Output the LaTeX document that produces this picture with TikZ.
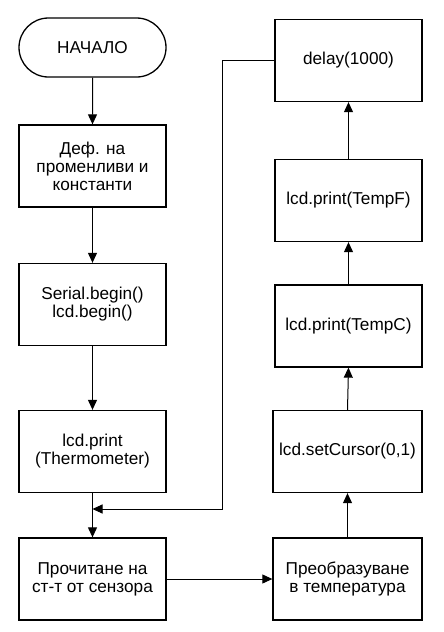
\documentclass[tikz,border=0pt]{standalone}
\usepackage{fontspec}
\setmainfont{Liberation Sans}
\usetikzlibrary{arrows.meta,shapes.misc}
\tikzset{
  box/.style={draw, line width=1.3pt, rectangle, minimum width=147pt, minimum height=82pt, align=center, inner sep=0pt, font=\fontsize{17.2}{18}\selectfont},
  term/.style={draw, line width=1.3pt, rounded rectangle, minimum width=147pt, minimum height=59pt, align=center, inner sep=0pt, font=\fontsize{17.2}{18}\selectfont},
  conn/.style={line width=1pt, -{Triangle[length=10pt,width=9pt]}},
  plain/.style={line width=1pt}
}
\begin{document}
\begin{tikzpicture}[x=1pt,y=-1pt]
\useasboundingbox (0,0) rectangle (444,632);
\node[term] (start) at (92.5,47.5) {НАЧАЛО};
\node[box] (def) at (92.5,166) {Деф. на\\променливи и\\константи};
\node[box] (ser) at (92.5,304.5) {Serial.begin()\\lcd.begin()};
\node[box] (therm) at (92.5,451.5) {lcd.print\\(Thermometer)};
\node[box] (read) at (92.5,579) {Прочитане на\\ст-т от сензора};
\node[box, minimum width=149pt] (conv) at (347.5,579) {Преобразуване\\в температура};
\node[box, minimum width=149pt] (cur) at (347.5,451.5) {lcd.setCursor(0,1)};
\node[box] (tc) at (348.5,326) {lcd.print(TempC)};
\node[box] (tf) at (348.5,200.5) {lcd.print(TempF)};
\node[box] (del) at (348.5,60.5) {delay(1000)};
\coordinate (c1) at (222,60.5);
\coordinate (c2) at (222,509);
\coordinate (j) at (92.5,509);
\draw[conn] (start) -- (def);
\draw[conn] (def) -- (ser);
\draw[conn] (ser) -- (therm);
\draw[conn] (therm) -- (read);
\draw[conn] (read) -- (conv);
\draw[conn] (conv) -- (cur);
\draw[conn] (cur.north) -- (tc.south);
\draw[conn] (tc) -- (tf);
\draw[conn] (tf) -- (del);
\draw[conn] (del.west) -- (c1) -- (c2) -- (j);
\end{tikzpicture}
\end{document}
